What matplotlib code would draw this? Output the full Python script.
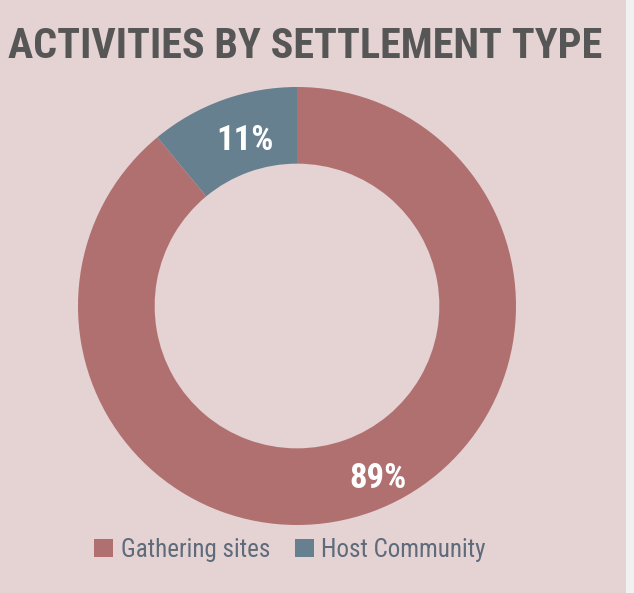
import matplotlib
matplotlib.use('Agg')
import matplotlib.pyplot as plt
from matplotlib.patches import Rectangle, Patch

labels = ['Gathering sites', 'Host Community']
shares = [89, 11]
colors = ['#b07070', '#66808f']
title = 'ACTIVITIES BY SETTLEMENT TYPE'

bg = '#e5d2d2'
fam = ['Roboto Condensed', 'Roboto', 'DejaVu Sans']

fig = plt.figure(figsize=(6.34, 5.93), dpi=100, facecolor=bg)

# light strip at right edge
fig.patches.append(Rectangle((626 / 634, 0), 8 / 634, 1, transform=fig.transFigure,
                             facecolor='#f1f1f1', edgecolor='none', zorder=0))

ax = fig.add_axes([78 / 634, 68 / 593, 438 / 634, 438 / 593])
ax.set_facecolor(bg)
wedges, texts, autotexts = ax.pie(
    shares, colors=colors, startangle=90, counterclock=False,
    wedgeprops=dict(width=0.35, edgecolor='none'),
    autopct='%d%%', pctdistance=0.82,
    textprops=dict(color='white', fontsize=25, fontweight='bold', family=fam))
# nudge labels a little to the right, like the original
for t, dx in zip(autotexts, [0.09, 0.04]):
    x, y = t.get_position()
    t.set_position((x + dx, y - 0.014))
ax.set_xlim(-1, 1)
ax.set_ylim(-1, 1)
ax.set_aspect('equal')
ax.axis('off')

fig.text(8 / 634, 1 - 46 / 593, title, ha='left', va='center', fontsize=30.3,
         fontweight='bold', color='#565656', family=fam)

handles = [Patch(facecolor=c, edgecolor='none') for c in colors]
leg = fig.legend(handles, labels, loc='center', bbox_to_anchor=(290 / 634, 1 - 550 / 593),
                 ncol=2, frameon=False, handlelength=0.75, handleheight=0.75,
                 handletextpad=0.3, columnspacing=1.0,
                 prop=dict(family=fam, size=18))
for t in leg.get_texts():
    t.set_color('#5d6b7b')

fig.savefig('out.png', dpi=100, facecolor=bg)
